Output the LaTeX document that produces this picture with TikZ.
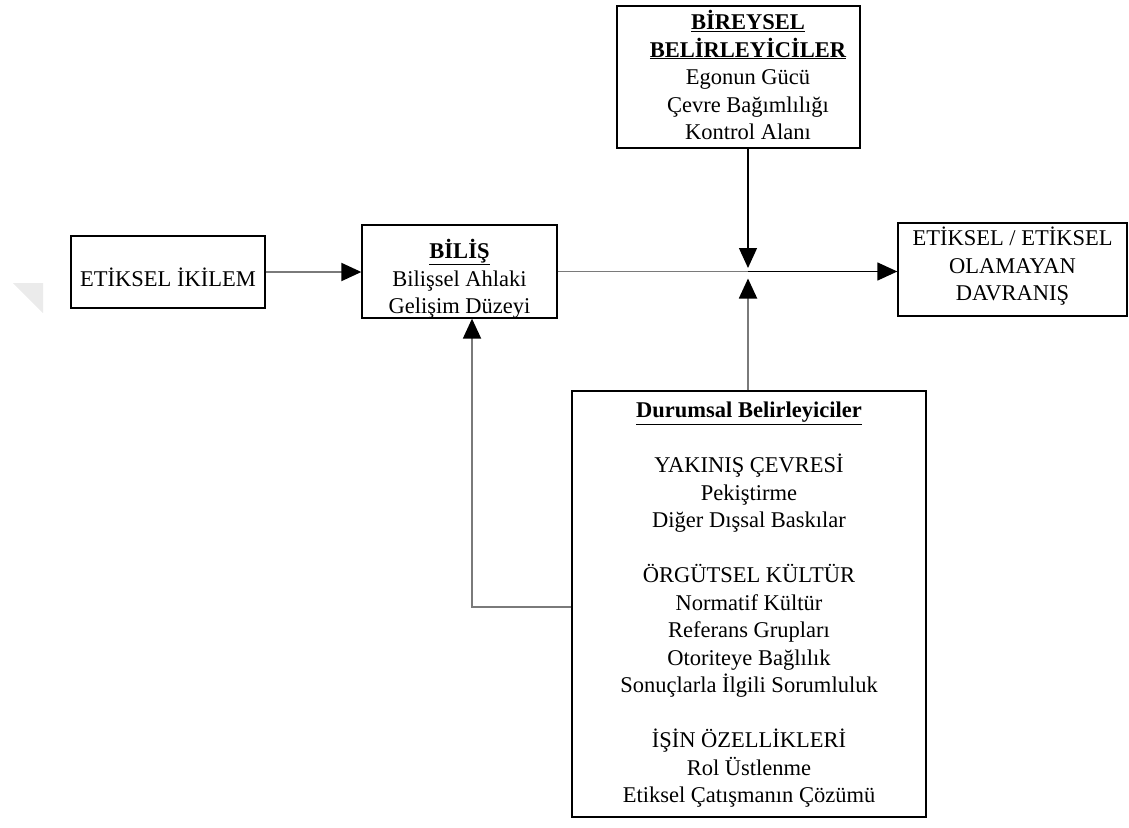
\documentclass[tikz,border=0pt]{standalone}
\usepackage{fontspec}
\setmainfont{Liberation Serif}
\usetikzlibrary{arrows.meta}
\begin{document}
\begin{tikzpicture}[x=1pt,y=-1pt,
  box/.style={draw=black,line width=1.3pt,inner sep=0pt},
  txt/.style={font=\fontsize{22.5}{27.5}\selectfont,align=center,anchor=base,inner sep=0pt},
  gline/.style={draw=black!52,line width=1.9pt},
  bline/.style={draw=black,line width=1.3pt},
  tip/.style={-{Triangle[length=20pt,width=18pt,color=black]}}]
\useasboundingbox (0,0) rectangle (1129,827);
% faint watermark
\fill[black!8] (13,283) -- (43,283) -- (43,313) -- cycle;
% boxes
\node[box,minimum width=194pt,minimum height=72pt] (ik) at (168,272) {};
\node[box,minimum width=195pt,minimum height=93pt] (bilis) at (459.5,271.5) {};
\node[box,minimum width=243pt,minimum height=142pt] (bir) at (738.5,77) {};
\node[box,minimum width=229pt,minimum height=93pt] (res) at (1012.5,269.5) {};
\node[box,minimum width=354pt,minimum height=426pt] (dur) at (749,604) {};
% texts (anchor = baseline of the last line)
\node[txt] (ikT) at (168,286) {ETİKSEL İKİLEM};
\node[txt] (bilisT) at (459.5,313.5) {\textbf{\underline{BİLİŞ}}\\Bilişsel Ahlaki\\Gelişim Düzeyi};
\node[txt] (birT) at (748,139.5) {\textbf{\underline{BİREYSEL}}\\\textbf{\underline{BELİRLEYİCİLER}}\\Egonun Gücü\\Çevre Bağımlılığı\\Kontrol Alanı};
\node[txt] (resT) at (1012.5,300.5) {ETİKSEL / ETİKSEL\\OLAMAYAN\\DAVRANIŞ};
\node[txt] (durT) at (749,802.5) {\textbf{\underline{Durumsal Belirleyiciler}}\\[27.5pt]
YAKINIŞ ÇEVRESİ\\Pekiştirme\\Diğer Dışsal Baskılar\\[27.5pt]
ÖRGÜTSEL KÜLTÜR\\Normatif Kültür\\Referans Grupları\\Otoriteye Bağlılık\\Sonuçlarla İlgili Sorumluluk\\[27.5pt]
İŞİN ÖZELLİKLERİ\\Rol Üstlenme\\Etiksel Çatışmanın Çözümü};
% connectors
\coordinate (J) at (748,271.5);
\coordinate (fbx) at (472,0);
\draw[gline,tip] (ik.east) -- (ik.east -| bilis.west);
\draw[gline] (bilis.east) -- (J);
\draw[bline,tip] (J) -- (J -| res.west);
\draw[bline,tip] (bir.south -| J) -- ([yshift=3.5pt]J);
\draw[gline,tip] (dur.north -| J) -- ([yshift=-7pt]J);
\draw[gline,tip] ([yshift=-3pt]dur.west) -| (fbx |- bilis.south);
\end{tikzpicture}
\end{document}
